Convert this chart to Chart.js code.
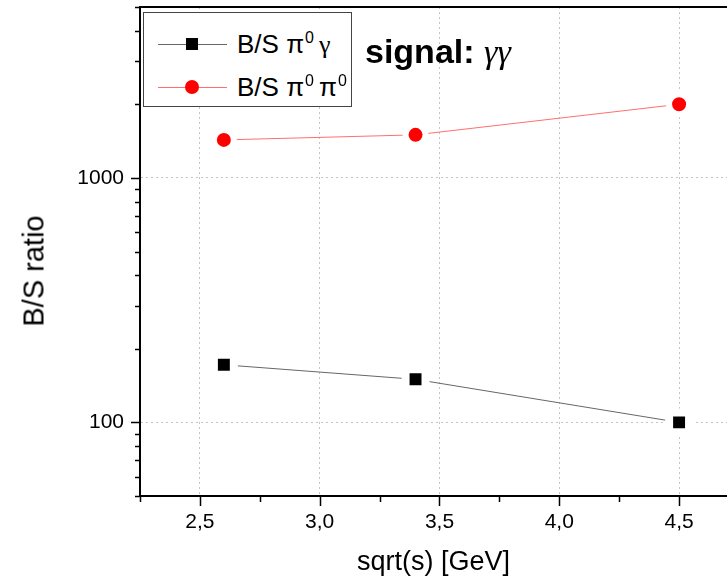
<!DOCTYPE html>
<html>
<head>
<meta charset="utf-8">
<script src="https://cdn.jsdelivr.net/npm/chart.js@4/dist/chart.umd.min.js"></script>
<style>
    html, body { margin: 0; padding: 0; background: #fff; }
    #wrap { position: relative; width: 727px; height: 582px; overflow: hidden; font-family: 'Liberation Sans', Arial, sans-serif; color: #000; }
    #chart { position: absolute; left: 0; top: 0; }
    .greek { font-family: 'Liberation Serif', 'Times New Roman', serif; }
    .sup { font-size: 16px; position: relative; top: -10px; margin: 0 5px 0 1px; }
    #legend { position: absolute; left: 143px; top: 12px; width: 207px; height: 93px; border: 1.5px solid #444; background: #fff; }
    .row { position: absolute; left: 0; height: 26px; line-height: 26px; font-size: 26px; white-space: nowrap; }
    .sample { position: absolute; left: 14px; width: 69px; height: 1px; }
    .mark { position: absolute; }
    .label { position: absolute; left: 93px; top: 0; }
    #signal { position: absolute; left: 365px; top: 34px; font-size: 34px; line-height: 34px; white-space: nowrap; }
    #ytitle { position: absolute; left: 34px; top: 271px; font-size: 29px; line-height: 29px; white-space: nowrap; transform: translate(-50%, -50%) rotate(-90deg); }
</style>
</head>
<body>
<div id="wrap">
    <canvas id="chart" width="727" height="582"></canvas>
    <div id="legend"></div>
    <div id="signal"><b>signal:</b> <i class="greek">γγ</i></div>
    <div id="ytitle">B/S ratio</div>
</div>
<script>
// data
const sqrtS = [2.6, 3.4, 4.5];
const bsPi0Gamma = [172, 150, 100];
const bsPi0Pi0 = [1430, 1500, 2000];

// axis ticks
const xTicks = [2.25, 2.5, 2.75, 3.0, 3.25, 3.5, 3.75, 4.0, 4.25, 4.5];
const xTickLabels = ['', '2,5', '', '3,0', '', '3,5', '', '4,0', '', '4,5'];
const yTicks = [50, 60, 70, 80, 90, 100, 200, 300, 400, 500, 600, 700, 800, 900, 1000, 2000, 3000, 4000, 5000];
const yTickLabels = ['', '', '', '', '', '100', '', '', '', '', '', '', '', '', '1000', '', '', '', ''];

// radius/gap: a white ring round each marker keeps the line off it, as Origin does
const series = [
    { name: 'B/S π<span class="sup">0</span><span class="greek">γ</span>', data: bsPi0Gamma, line: '#666', fill: '#000', style: 'rect', radius: 14.1, gap: 8, size: 12 },
    { name: 'B/S π<span class="sup">0</span>π<span class="sup">0</span>', data: bsPi0Pi0, line: '#ff6f6f', fill: '#ff0000', style: 'circle', radius: 10, gap: 6, size: 14 }
];

Chart.defaults.font.family = "'Liberation Sans', Arial, sans-serif";
Chart.defaults.color = '#000';

// Origin-like tick marks (long on labelled ticks, short otherwise) and top frame line
const frameTicks = {
    id: 'frameTicks',
    afterDraw(chart) {
        const ctx = chart.ctx;
        const area = chart.chartArea;
        const xs = chart.scales.x;
        const ys = chart.scales.y;
        ctx.save();
        ctx.strokeStyle = '#000';
        ctx.lineWidth = 1.5;
        ctx.beginPath();
        xTicks.forEach((v, i) => {
            const px = Math.round(xs.getPixelForValue(v)) + 0.5;
            const len = xTickLabels[i] ? 10 : 6;
            ctx.moveTo(px, area.bottom);
            ctx.lineTo(px, area.bottom + len);
        });
        yTicks.forEach((v, i) => {
            const py = Math.round(ys.getPixelForValue(v)) + 0.5;
            const len = yTickLabels[i] ? 9 : 5;
            ctx.moveTo(area.left, py);
            ctx.lineTo(area.left - len, py);
        });
        ctx.stroke();
        ctx.lineWidth = 2;
        ctx.beginPath();
        ctx.moveTo(area.left - 1, area.top);
        ctx.lineTo(area.right, area.top);
        ctx.stroke();
        ctx.restore();
    }
};

new Chart(document.getElementById('chart').getContext('2d'), {
    type: 'line',
    data: {
        datasets: series.map(s => ({
            label: s.name,
            data: sqrtS.map((x, i) => ({ x: x, y: s.data[i] })),
            borderColor: s.line,
            borderWidth: 1,
            pointStyle: s.style,
            pointRadius: s.radius,
            pointBackgroundColor: s.fill,
            pointBorderColor: '#fff',
            pointBorderWidth: s.gap,
            tension: 0
        }))
    },
    options: {
        responsive: false,
        animation: false,
        layout: { autoPadding: false, padding: { top: 7, right: 0, left: 0, bottom: 0 } },
        plugins: {
            legend: { display: false },
            tooltip: { enabled: false }
        },
        scales: {
            x: {
                type: 'linear',
                min: 2.25,
                max: 4.7,
                afterBuildTicks: scale => { scale.ticks = xTicks.map(v => ({ value: v })); },
                afterFit: scale => {
                    scale.height = 86;
                    scale.paddingLeft = 0;
                    scale.paddingRight = 0;
                },
                ticks: {
                    autoSkip: false,
                    maxRotation: 0,
                    padding: 14,
                    font: { size: 21 },
                    callback: (val, i) => xTickLabels[i]
                },
                grid: {
                    drawTicks: false,
                    color: ctx => (ctx.tick && xTickLabels[ctx.index]) ? '#c4c4c4' : 'rgba(0,0,0,0)'
                },
                border: { display: true, color: '#000', width: 2, dash: [2, 3] },
                title: {
                    display: true,
                    text: 'sqrt(s) [GeV]',
                    font: { size: 27 },
                    padding: { top: 0, bottom: 3 }
                }
            },
            y: {
                type: 'logarithmic',
                min: 50,
                max: 5000,
                afterBuildTicks: scale => { scale.ticks = yTicks.map(v => ({ value: v })); },
                afterFit: scale => {
                    scale.width = 140;
                    scale.paddingTop = 0;
                    scale.paddingBottom = 0;
                },
                ticks: {
                    autoSkip: false,
                    padding: 16,
                    font: { size: 21 },
                    callback: (val, i) => yTickLabels[i]
                },
                grid: {
                    drawTicks: false,
                    color: ctx => (ctx.tick && yTickLabels[ctx.index]) ? '#c4c4c4' : 'rgba(0,0,0,0)'
                },
                border: { display: true, color: '#000', width: 2, dash: [2, 3] }
            }
        }
    },
    plugins: [frameTicks]
});

// legend box, built from the same series list
const legend = document.getElementById('legend');
const rowTops = [18, 61];
series.forEach((s, i) => {
    const row = document.createElement('div');
    row.className = 'row';
    row.style.top = rowTops[i] + 'px';
    row.innerHTML = `
        <div class="sample" style="top:13px; background:${s.line}"></div>
        <div class="mark" style="left:${48 - s.size / 2}px; top:${13 - s.size / 2}px; width:${s.size}px; height:${s.size}px;
             background:${s.fill}; border-radius:${s.style === 'circle' ? '50%' : '0'}"></div>
        <div class="label">${s.name}</div>
    `;
    legend.appendChild(row);
});
</script>
</body>
</html>
